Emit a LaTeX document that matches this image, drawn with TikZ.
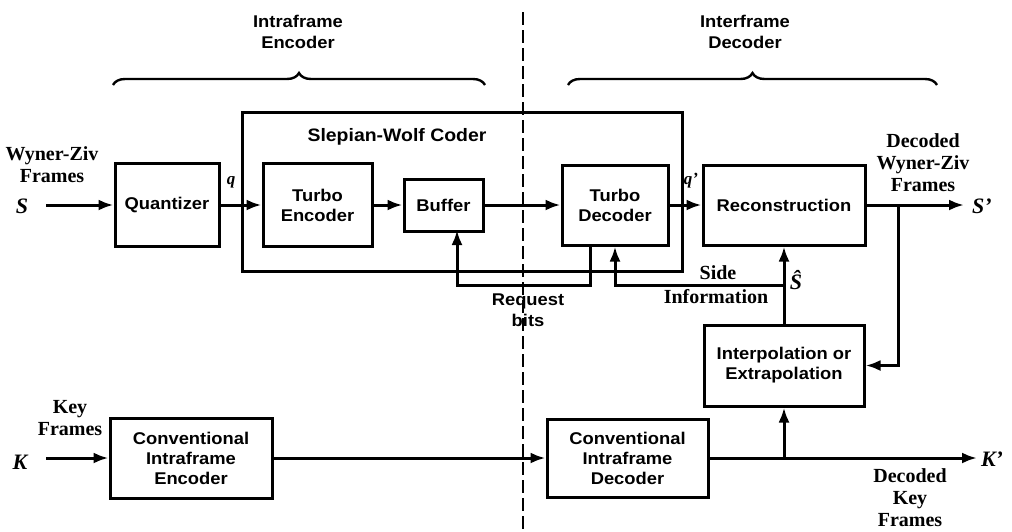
\documentclass[tikz,border=0pt]{standalone}
\usepackage{fontspec}
\setmainfont{Liberation Serif}
\setsansfont{Liberation Sans}[FakeStretch=1.08]
\usetikzlibrary{arrows.meta,decorations.pathreplacing}
\begin{document}
\begin{tikzpicture}[x=1pt,y=-1pt,
  line width=3pt,
  box/.style={draw, line width=3pt, align=center, inner sep=0pt,
    font=\sffamily\bfseries\fontsize{17}{20}\selectfont},
  arr/.style={line width=3pt, -{Latex[length=15pt,width=11pt]}},
  lbl/.style={align=center, inner sep=0pt, font=\rmfamily\bfseries\fontsize{20}{22}\selectfont},
  sym/.style={inner sep=0pt, font=\rmfamily\bfseries\itshape\fontsize{22}{24}\selectfont},
  ttl/.style={align=center, inner sep=0pt, font=\sffamily\bfseries\fontsize{17}{21}\selectfont},
  brc/.style={decorate, decoration={brace, amplitude=12pt}, line width=2.4pt},
  divider/.style={line width=2.8pt, dash pattern=on 13pt off 5pt}
]
\useasboundingbox (0,0) rectangle (1012,531);

% titles and braces
\node[ttl] (t1) at (298,32) {Intraframe\\Encoder};
\node[ttl] (t2) at (745,32) {Interframe\\Decoder};
\draw[brc] (113,85) -- (485,85);
\draw[brc] (568,85) -- (937,85);

% divider
\draw[divider] (523,12) -- (523,531);

% Slepian-Wolf outer box
\node[draw, line width=3pt, minimum width=440pt, minimum height=159pt, inner sep=0pt] (sw) at (462,191.5) {};
\node[ttl, font=\sffamily\bfseries\fontsize{18}{21}\selectfont] (swt) at (397,137) {Slepian-Wolf Coder};

% boxes
\node[box, minimum width=104pt, minimum height=83pt] (quant) at (167,205) {Quantizer};
\node[box, minimum width=109pt, minimum height=83pt] (te) at (317.5,205) {Turbo\\Encoder};
\node[box, minimum width=79pt, minimum height=52pt] (buf) at (443.5,205) {Buffer};
\node[box, minimum width=106pt, minimum height=80pt] (td) at (615,205) {Turbo\\Decoder};
\node[box, minimum width=162pt, minimum height=80pt] (rec) at (784,205) {Reconstruction};
\node[box, minimum width=160pt, minimum height=81pt] (interp) at (784,365.5) {Interpolation or\\Extrapolation};
\node[box, minimum width=162pt, minimum height=80pt] (cenc) at (191,458) {Conventional\\Intraframe\\Encoder};
\node[box, minimum width=161pt, minimum height=78pt] (cdec) at (627.5,458) {Conventional\\Intraframe\\Decoder};

% labels
\node[lbl] (wzf) at (52,165) {Wyner-Ziv\\Frames};
\node[sym] (S) at (22,206) {S};
\node[sym, font=\rmfamily\bfseries\itshape\fontsize{17}{20}\selectfont] (q) at (231,182) {q};
\node[sym, font=\rmfamily\bfseries\itshape\fontsize{17}{20}\selectfont] (qp) at (691,181) {q'};
\node[lbl] (dwzf) at (923,163) {Decoded\\Wyner-Ziv\\Frames};
\node[sym] (Sp) at (982,206) {S'};
\node[lbl] (kf) at (70,418) {Key\\Frames};
\node[sym] (K) at (20,462) {K};
\node[lbl] (dkf) at (910,498) {Decoded\\Key\\Frames};
\node[sym] (Kp) at (992,459) {K'};
\node[sym] (Sh) at (796,280) {\^S};
\node[lbl] (side) at (718,273) {Side};
\node[lbl] (info) at (716,297) {Information};
\node[ttl] (req) at (528,310) {Request\\bits};

% coordinates
\coordinate (sin) at (46,205);
\coordinate (kin) at (46,458);
\coordinate (b1) at (898,205);
\coordinate (b2) at (784,458);
\coordinate (sj) at (784,285);
\coordinate (rq0) at (590,245);
\coordinate (rq1) at (590,285);
\coordinate (bufin) at (457,230);
\coordinate (sout) at (964,205);
\coordinate (kout) at (977,458);

% connectors
\draw[arr] (sin) -- (quant.west);
\draw[arr] (quant.east) -- (te.west);
\draw[arr] (te.east) -- (buf.west);
\draw[arr] (buf.east) -- (td.west);
\draw[arr] (td.east) -- (rec.west);
\draw[arr] (rec.east) -- (sout);
\draw[arr] (b1) |- (interp.east);
\draw[arr] (interp.north) -- (rec.south);
\draw[arr] (sj) -| (td.south);
\draw[arr] (rq0) -- (rq1) -| (bufin);
\draw[arr] (kin) -- (cenc.west);
\draw[arr] (cenc.east) -- (cdec.west);
\draw[arr] (cdec.east) -- (kout);
\draw[arr] (b2) -- (interp.south);
\end{tikzpicture}
\end{document}
